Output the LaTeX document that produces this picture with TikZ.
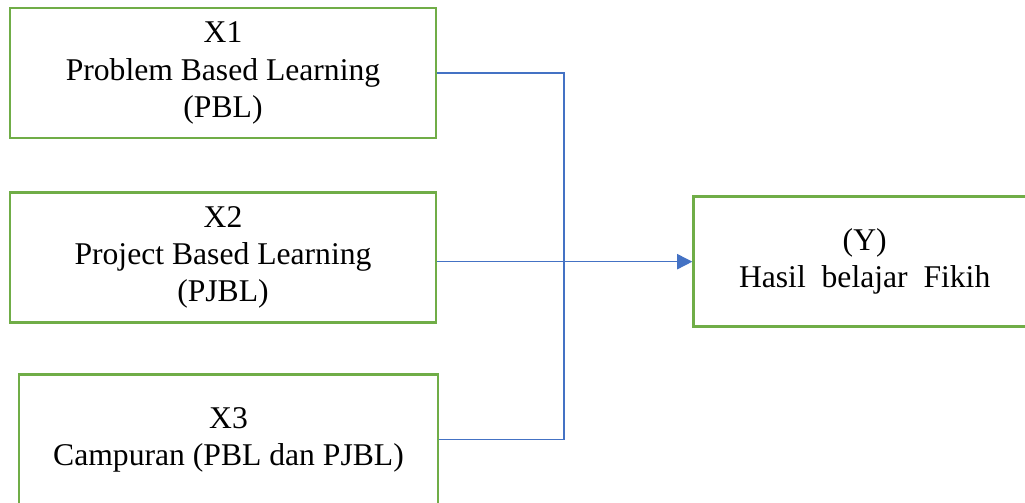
\documentclass[tikz,border=0pt]{standalone}
\usepackage{fontspec}
\setmainfont{Liberation Serif}
\usetikzlibrary{positioning, calc}
\usetikzlibrary{arrows.meta}

\begin{document}
\begin{tikzpicture}[font=\fontsize{22.5}{26.4}\selectfont, align=center, >={Triangle[length=0.38cm, width=0.38cm]}]
        % Define colors
        \definecolor{boxgreen}{RGB}{112, 173, 71}
        \definecolor{linkblue}{RGB}{68, 114, 196}
        \tikzset{
            varbox/.style={draw=boxgreen, line width=1.9pt, text=black, minimum width=10.65cm, minimum height=3.25cm, inner sep=0pt},
            link/.style={draw=linkblue, line width=1.1pt}
        }

        % Page frame
        \useasboundingbox (0,0) rectangle (25.625,-12.55);

        % Nodes
        \node[varbox] (x1) at (5.575,-1.825) {X1\\Problem Based Learning\\(PBL)};
        \node[varbox, below=1.3cm of x1] (x2) {X2\\Project Based Learning\\(PJBL)};
        \node[varbox, below=1.23cm of x2, xshift=0.1375cm, minimum width=10.475cm] (x3) {X3\\Campuran (PBL dan PJBL)};
        \node[varbox, right=6.375cm of x2, yshift=-0.1cm, minimum width=8.55cm] (y) {(Y)\\Hasil\ \ belajar\ \ Fikih};

        \coordinate (join) at (14.1,-6.525);

        % Edges
        \draw[link] (x1.east) -| (join);
        \draw[link] (x3.east) -| (join);
        \draw[link, ->, color=linkblue] (x2.east |- y.west) -- (y.west);
    \end{tikzpicture}
\end{document}
